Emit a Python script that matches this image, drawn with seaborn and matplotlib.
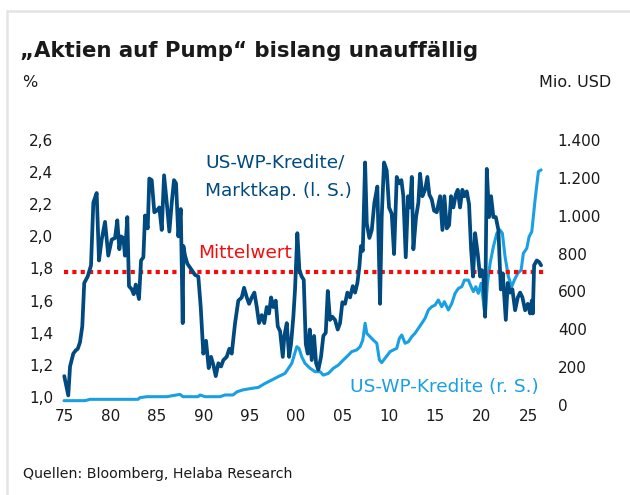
import matplotlib
matplotlib.use('agg')
import matplotlib.pyplot as plt
from matplotlib.lines import Line2D
import seaborn as sns
import pandas as pd

# US-WP-Kredite / Marktkapitalisierung in % (linke Achse)
ratio_year = [1975.03, 1975.46, 1975.65, 1976.00, 1976.26, 1976.48, 1976.72, 1976.97, 1977.18, 1977.55,
              1977.91, 1978.16, 1978.52, 1978.77, 1979.06, 1979.42, 1979.77, 1980.14, 1980.50, 1980.74,
              1980.96, 1981.14, 1981.39, 1981.57, 1981.82, 1982.00, 1982.30, 1982.51, 1982.73, 1983.08,
              1983.30, 1983.55, 1983.73, 1984.02, 1984.19, 1984.45, 1984.73, 1984.99, 1985.27, 1985.53,
              1985.78, 1986.07, 1986.35, 1986.61, 1986.85, 1987.07, 1987.32, 1987.58, 1987.79, 1987.86,
              1988.04, 1988.29, 1988.65, 1989.12, 1989.47, 1989.73, 1990.01, 1990.30, 1990.59, 1990.84,
              1991.09, 1991.35, 1991.63, 1991.92, 1992.17, 1992.53, 1992.81, 1993.07, 1993.43, 1993.78,
              1994.15, 1994.40, 1994.69, 1994.94, 1995.23, 1995.51, 1995.77, 1996.01, 1996.30, 1996.58,
              1996.84, 1997.09, 1997.31, 1997.55, 1997.81, 1998.03, 1998.28, 1998.57, 1998.74, 1999.00,
              1999.25, 1999.46, 1999.71, 1999.89, 2000.14, 2000.36, 2000.61, 2000.83, 2001.05, 2001.26,
              2001.48, 2001.69, 2001.94, 2002.16, 2002.40, 2002.69, 2002.94, 2003.20, 2003.42, 2003.66,
              2003.91, 2004.20, 2004.49, 2004.74, 2004.99, 2005.28, 2005.53, 2005.82, 2006.11, 2006.36,
              2006.61, 2006.82, 2007.00, 2007.19, 2007.44, 2007.62, 2007.90, 2008.16, 2008.44, 2008.76,
              2009.05, 2009.23, 2009.48, 2009.77, 2010.02, 2010.31, 2010.56, 2010.85, 2011.10, 2011.35,
              2011.56, 2011.82, 2012.07, 2012.28, 2012.47, 2012.64, 2012.93, 2013.18, 2013.36, 2013.61,
              2013.90, 2014.15, 2014.36, 2014.62, 2014.87, 2015.16, 2015.52, 2015.77, 2015.98, 2016.24,
              2016.49, 2016.70, 2016.95, 2017.21, 2017.42, 2017.67, 2017.92, 2018.14, 2018.39, 2018.64,
              2018.86, 2019.07, 2019.29, 2019.58, 2019.83, 2020.01, 2020.19, 2020.37, 2020.55, 2020.80,
              2021.01, 2021.26, 2021.52, 2021.80, 2022.06, 2022.27, 2022.60, 2022.81, 2023.06, 2023.31,
              2023.60, 2023.89, 2024.14, 2024.39, 2024.68, 2024.97, 2025.22, 2025.40, 2025.51, 2025.65,
              2025.94, 2026.19, 2026.40]
ratio_pct = [1.13, 1.01, 1.19, 1.27, 1.29, 1.30, 1.34, 1.44, 1.71, 1.75,
             1.82, 2.21, 2.27, 1.85, 1.98, 2.09, 1.88, 1.98, 1.99, 2.10,
             1.92, 2.00, 1.99, 1.88, 2.12, 1.69, 1.67, 1.64, 1.70, 1.61,
             1.85, 1.87, 2.13, 2.05, 2.36, 2.35, 2.15, 2.16, 2.18, 2.04,
             2.38, 2.21, 2.03, 2.21, 2.35, 2.33, 2.00, 2.17, 1.46, 1.94,
             1.88, 1.83, 1.80, 1.76, 1.75, 1.56, 1.27, 1.35, 1.18, 1.25,
             1.20, 1.13, 1.21, 1.19, 1.23, 1.25, 1.30, 1.27, 1.46, 1.60,
             1.62, 1.68, 1.62, 1.58, 1.62, 1.65, 1.56, 1.46, 1.51, 1.46,
             1.56, 1.52, 1.62, 1.56, 1.60, 1.44, 1.41, 1.25, 1.38, 1.46,
             1.25, 1.33, 1.50, 1.67, 2.02, 1.79, 1.75, 1.73, 1.33, 1.27,
             1.42, 1.23, 1.38, 1.21, 1.17, 1.25, 1.38, 1.40, 1.66, 1.48,
             1.50, 1.48, 1.42, 1.46, 1.59, 1.58, 1.65, 1.62, 1.69, 1.65,
             1.71, 1.81, 1.94, 1.91, 2.46, 2.08, 1.99, 2.04, 2.21, 2.31,
             1.58, 2.12, 2.46, 2.41, 2.18, 2.14, 1.89, 2.37, 2.33, 2.35,
             2.25, 1.87, 2.25, 2.18, 2.37, 1.92, 2.12, 2.21, 2.39, 2.25,
             2.29, 2.37, 2.26, 2.23, 2.16, 2.15, 2.25, 2.04, 2.25, 2.05,
             2.07, 2.25, 2.18, 2.26, 2.29, 2.18, 2.29, 2.25, 2.28, 2.20,
             1.92, 1.75, 2.02, 1.89, 1.75, 1.79, 1.75, 1.50, 2.42, 2.12,
             2.25, 2.12, 2.12, 2.04, 1.67, 1.77, 1.48, 1.71, 1.65, 1.67,
             1.54, 1.62, 1.65, 1.62, 1.54, 1.58, 1.52, 1.60, 1.52, 1.82,
             1.85, 1.84, 1.82]

# US-WP-Kredite in Mio. USD (rechte Achse)
credit_year = [1975.00, 1977.26, 1977.80, 1982.97, 1983.19, 1983.94, 1986.10, 1986.64, 1987.50, 1987.82,
               1989.44, 1989.66, 1990.19, 1991.81, 1992.35, 1993.21, 1993.64, 1994.29, 1995.23, 1995.94,
               1996.66, 1997.38, 1998.09, 1998.81, 1999.54, 2000.08, 2000.32, 2000.61, 2000.97, 2001.51,
               2002.05, 2002.59, 2002.94, 2003.48, 2004.02, 2004.56, 2005.10, 2005.46, 2006.00, 2006.54,
               2006.90, 2007.19, 2007.44, 2007.62, 2007.97, 2008.33, 2008.70, 2008.98, 2009.23, 2009.59,
               2010.13, 2010.49, 2010.85, 2011.13, 2011.39, 2011.75, 2012.10, 2012.47, 2012.82, 2013.18,
               2013.55, 2013.90, 2014.26, 2014.62, 2014.98, 2015.33, 2015.70, 2015.98, 2016.41, 2016.78,
               2017.13, 2017.49, 2017.86, 2018.14, 2018.57, 2018.86, 2019.11, 2019.37, 2019.64, 2019.94,
               2020.12, 2020.37, 2020.62, 2020.91, 2021.26, 2021.63, 2021.98, 2022.23, 2022.52, 2022.88,
               2023.24, 2023.52, 2023.89, 2024.25, 2024.49, 2024.86, 2025.11, 2025.40, 2025.75, 2026.11,
               2026.40]
credit_musd = [23, 23, 30, 30, 39, 44, 44, 49, 56, 44,
               44, 53, 44, 44, 53, 53, 70, 80, 88, 93,
               114, 132, 150, 167, 220, 308, 299, 255, 220, 194,
               176, 176, 158, 167, 194, 211, 238, 255, 282, 291,
               308, 343, 432, 379, 361, 343, 326, 238, 224, 247,
               282, 291, 299, 352, 370, 326, 334, 361, 379, 405,
               432, 458, 502, 519, 528, 555, 519, 546, 502, 537,
               590, 616, 625, 660, 660, 625, 599, 625, 590, 643,
               572, 466, 643, 749, 836, 907, 924, 907, 783, 678,
               625, 660, 696, 713, 801, 828, 889, 916, 1083, 1233,
               1242]

mean_pct = 1.78

year_ticks = [1975, 1980, 1985, 1990, 1995, 2000, 2005, 2010, 2015, 2020, 2025]
year_labels = ['75', '80', '85', '90', '95', '00', '05', '10', '15', '20', '25']
left_ticks = [1.0, 1.2, 1.4, 1.6, 1.8, 2.0, 2.2, 2.4, 2.6]
right_ticks = [0, 200, 400, 600, 800, 1000, 1200, 1400]

DARK = '#004a7f'
LIGHT = '#1aa0e2'
RED = '#f20c0c'
TXT = '#1a1a1a'

sns.set_theme(style='white')
plt.rcParams['font.family'] = ['DejaVu Sans']
plt.rcParams['text.color'] = TXT
plt.rcParams['xtick.color'] = TXT
plt.rcParams['ytick.color'] = TXT

ratio = pd.DataFrame({'jahr': ratio_year, 'quote': ratio_pct})
credit = pd.DataFrame({'jahr': credit_year, 'mio_usd': credit_musd})

fig = plt.figure(figsize=(6.3, 4.95), dpi=100)
ax = fig.add_axes([0.0957, 0.1818, 0.772, 0.5354])
ax2 = ax.twinx()

sns.lineplot(data=credit, x='jahr', y='mio_usd', ax=ax2, color=LIGHT, lw=2.2,
             estimator=None, sort=False)
ax.hlines(mean_pct, 1975.0, 2026.8, color=RED, lw=3, linestyles=(0, (1, 1)), zorder=1)
sns.lineplot(data=ratio, x='jahr', y='quote', ax=ax, color=DARK, lw=2.7,
             estimator=None, sort=False, zorder=2)
ax.set_zorder(ax2.get_zorder() + 1)
ax.patch.set_visible(False)

ax.set_xlim(1974.6, 2027.0)
ax.set_ylim(0.9502, 2.6)
ax2.set_ylim(0, 1400)
ax.set_xticks(year_ticks, year_labels)
ax.set_yticks(left_ticks, [f'{v:.1f}'.replace('.', ',') for v in left_ticks])
ax2.set_yticks(right_ticks, [f'{v:,}'.replace(',', '.') for v in right_ticks])
ax.tick_params(axis='x', length=0, pad=3, labelsize=11)
ax.tick_params(axis='y', length=0, pad=5, labelsize=11)
ax2.tick_params(axis='y', length=0, pad=8, labelsize=11)
for a in (ax, ax2):
    a.set_xlabel('')
    a.set_ylabel('')
    a.grid(False)
    for s in a.spines.values():
        s.set_visible(False)

# Beschriftungen im Chart
ax.text(1990.19, 2.43, 'US-WP-Kredite/', color=DARK, fontsize=13.3, va='baseline')
ax.text(1990.19, 2.25, 'Marktkap. (l. S.)', color=DARK, fontsize=13.3, va='baseline')
ax.text(1989.44, 1.864, 'Mittelwert', color=RED, fontsize=13.3, va='baseline')
ax.text(2005.82, 1.034, 'US-WP-Kredite (r. S.)', color=LIGHT, fontsize=13.3, va='baseline')

fig.text(0.032, 0.885, '\u201eAktien auf Pump\u201c bislang unauff\u00e4llig',
         fontsize=15.3, fontweight='bold', va='baseline')
fig.text(0.035, 0.834, '%', fontsize=11.5, va='center')
fig.text(0.971, 0.834, 'Mio. USD', fontsize=11.5, va='center', ha='right')
fig.text(0.0365, 0.0424, 'Quellen: Bloomberg, Helaba Research', fontsize=10.2, va='center')

# hellgrauer Rahmen oben und links
fig.add_artist(Line2D([0.011, 1.0], [0.977, 0.977], transform=fig.transFigure, color='#e4e4e4', lw=1.8))
fig.add_artist(Line2D([0.011, 0.011], [0.0, 0.977], transform=fig.transFigure, color='#e4e4e4', lw=1.8))

fig.savefig('out.png', dpi=100)
